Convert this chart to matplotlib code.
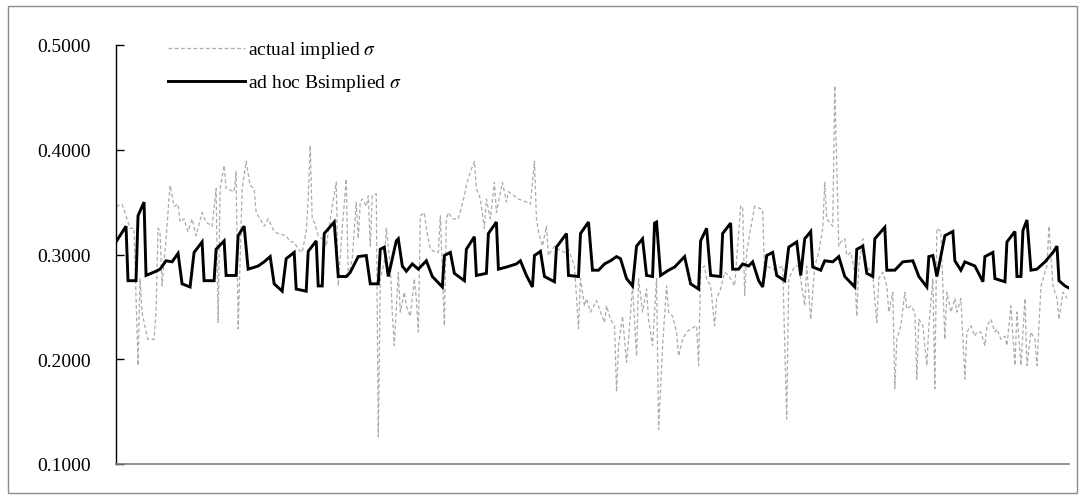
import matplotlib
matplotlib.use("Agg")
import matplotlib.pyplot as plt
from matplotlib.patches import Rectangle
from matplotlib.ticker import FormatStrFormatter

# Trading-day index and volatility for the ad hoc Black-Scholes implied sigma
model_day = [0, 5, 6, 10, 11, 14, 15, 20, 22, 25, 28, 31, 33, 37, 39, 43, 44, 49, 50, 54,
             55, 60, 61, 64, 66, 71, 74, 77, 79, 83, 85, 89, 90, 95, 96, 100, 101, 103, 104, 109,
             111, 115, 117, 121, 125, 127, 131, 132, 134, 136, 140, 141, 143, 145, 148, 151, 155, 158, 163, 164,
             167, 169, 174, 175, 179, 180, 185, 186, 190, 191, 195, 200, 202, 205, 208, 209, 212, 214, 219, 220,
             225, 226, 231, 232, 236, 238, 241, 244, 247, 250, 252, 255, 258, 260, 263, 265, 268, 269, 270, 272,
             276, 279, 282, 284, 287, 291, 292, 295, 297, 302, 303, 307, 308, 311, 313, 316, 318, 321, 323, 325,
             328, 330, 334, 336, 340, 342, 344, 347, 348, 352, 354, 358, 361, 364, 369, 370, 373, 375, 378, 379,
             384, 385, 389, 393, 398, 401, 405, 406, 408, 410, 414, 418, 419, 422, 424, 429, 433, 434, 438, 439,
             444, 445, 449, 450, 452, 453, 455, 457, 460, 464, 468, 470, 471, 474, 476]
model_sigma = [0.312, 0.327, 0.275, 0.275, 0.337, 0.350, 0.280, 0.284, 0.286, 0.294, 0.293, 0.301, 0.272, 0.269, 0.302, 0.312, 0.275, 0.275, 0.305, 0.313,
               0.280, 0.280, 0.318, 0.327, 0.286, 0.289, 0.293, 0.298, 0.272, 0.265, 0.296, 0.302, 0.267, 0.265, 0.303, 0.313, 0.270, 0.270, 0.320, 0.331,
               0.279, 0.279, 0.283, 0.298, 0.299, 0.272, 0.272, 0.305, 0.307, 0.279, 0.313, 0.315, 0.289, 0.284, 0.291, 0.286, 0.294, 0.279, 0.269, 0.299,
               0.302, 0.282, 0.275, 0.305, 0.317, 0.280, 0.282, 0.320, 0.331, 0.286, 0.288, 0.291, 0.294, 0.280, 0.269, 0.299, 0.303, 0.279, 0.274, 0.307,
               0.320, 0.280, 0.279, 0.320, 0.331, 0.285, 0.285, 0.291, 0.294, 0.298, 0.296, 0.277, 0.270, 0.308, 0.315, 0.280, 0.279, 0.330, 0.331, 0.280,
               0.285, 0.288, 0.294, 0.298, 0.272, 0.267, 0.313, 0.325, 0.280, 0.279, 0.320, 0.330, 0.286, 0.286, 0.291, 0.289, 0.293, 0.275, 0.269, 0.299,
               0.302, 0.280, 0.275, 0.307, 0.312, 0.280, 0.315, 0.322, 0.288, 0.285, 0.294, 0.293, 0.298, 0.279, 0.269, 0.305, 0.308, 0.282, 0.279, 0.315,
               0.326, 0.285, 0.285, 0.293, 0.294, 0.279, 0.269, 0.298, 0.299, 0.279, 0.318, 0.322, 0.294, 0.285, 0.293, 0.289, 0.274, 0.298, 0.302, 0.277,
               0.274, 0.312, 0.322, 0.279, 0.279, 0.323, 0.333, 0.285, 0.286, 0.293, 0.302, 0.308, 0.275, 0.270, 0.268]

# Trading-day index and observed market implied volatility
actual_day = [0, 3, 5, 7, 9, 10, 11, 12, 13, 15, 16, 19, 20, 21, 22, 23, 25, 27, 29, 31,
              32, 34, 36, 38, 40, 43, 45, 48, 50, 51, 52, 54, 55, 59, 60, 61, 63, 65, 67, 69,
              70, 72, 74, 76, 79, 81, 85, 87, 89, 91, 93, 95, 96, 97, 98, 99, 101, 103, 105, 108,
              110, 111, 113, 115, 116, 118, 120, 121, 122, 123, 125, 126, 127, 128, 130, 131, 132, 134, 135, 137,
              138, 139, 141, 142, 144, 145, 147, 149, 150, 151, 152, 154, 155, 157, 160, 161, 162, 164, 165, 166,
              168, 171, 174, 175, 177, 179, 180, 182, 184, 185, 187, 189, 190, 193, 195, 196, 199, 201, 205, 207,
              209, 210, 211, 213, 215, 216, 219, 221, 224, 226, 229, 231, 232, 234, 235, 237, 240, 242, 244, 245,
              247, 249, 250, 251, 253, 255, 256, 258, 260, 261, 263, 265, 266, 268, 270, 271, 273, 275, 276, 278,
              280, 281, 283, 285, 287, 290, 291, 292, 294, 295, 297, 299, 300, 302, 304, 306, 309, 310, 312, 313,
              314, 315, 317, 319, 323, 324, 325, 328, 330, 333, 335, 336, 339, 341, 344, 345, 347, 349, 351, 353,
              354, 355, 358, 359, 361, 362, 364, 365, 367, 369, 370, 371, 373, 375, 376, 378, 380, 381, 383, 385,
              386, 388, 389, 390, 392, 394, 395, 397, 399, 400, 401, 403, 405, 406, 408, 409, 410, 412, 414, 415,
              417, 419, 420, 422, 424, 425, 427, 429, 430, 432, 434, 435, 437, 439, 440, 442, 444, 445, 447, 449,
              450, 452, 454, 455, 457, 459, 460, 462, 464, 465, 466, 468, 470, 471, 473, 475]
actual_sigma = [0.346, 0.348, 0.337, 0.325, 0.325, 0.261, 0.194, 0.277, 0.245, 0.226, 0.219, 0.219, 0.245, 0.325, 0.322, 0.270, 0.315, 0.366, 0.346, 0.348,
                0.331, 0.334, 0.322, 0.334, 0.318, 0.340, 0.331, 0.327, 0.363, 0.235, 0.363, 0.385, 0.363, 0.360, 0.379, 0.229, 0.363, 0.389, 0.366, 0.363,
                0.340, 0.334, 0.327, 0.334, 0.322, 0.320, 0.318, 0.312, 0.312, 0.305, 0.302, 0.322, 0.353, 0.404, 0.334, 0.331, 0.318, 0.315, 0.308, 0.346,
                0.369, 0.270, 0.325, 0.372, 0.277, 0.296, 0.350, 0.315, 0.350, 0.353, 0.346, 0.356, 0.308, 0.356, 0.358, 0.126, 0.277, 0.293, 0.325, 0.289,
                0.245, 0.213, 0.283, 0.245, 0.264, 0.251, 0.241, 0.277, 0.258, 0.226, 0.337, 0.340, 0.325, 0.305, 0.302, 0.302, 0.337, 0.232, 0.334, 0.340,
                0.334, 0.334, 0.356, 0.366, 0.379, 0.389, 0.363, 0.353, 0.325, 0.353, 0.334, 0.369, 0.340, 0.369, 0.350, 0.360, 0.356, 0.353, 0.350, 0.348,
                0.389, 0.334, 0.322, 0.308, 0.327, 0.299, 0.308, 0.305, 0.302, 0.305, 0.289, 0.229, 0.277, 0.251, 0.258, 0.245, 0.256, 0.245, 0.235, 0.251,
                0.238, 0.232, 0.169, 0.213, 0.241, 0.197, 0.219, 0.270, 0.203, 0.277, 0.245, 0.267, 0.238, 0.213, 0.277, 0.133, 0.213, 0.270, 0.245, 0.241,
                0.226, 0.203, 0.219, 0.226, 0.229, 0.232, 0.194, 0.286, 0.289, 0.277, 0.270, 0.232, 0.258, 0.267, 0.283, 0.280, 0.270, 0.296, 0.346, 0.346,
                0.261, 0.302, 0.325, 0.346, 0.343, 0.277, 0.289, 0.286, 0.286, 0.289, 0.143, 0.277, 0.289, 0.289, 0.251, 0.289, 0.238, 0.289, 0.302, 0.325,
                0.369, 0.334, 0.327, 0.461, 0.308, 0.312, 0.315, 0.299, 0.302, 0.283, 0.241, 0.289, 0.315, 0.289, 0.286, 0.280, 0.235, 0.277, 0.283, 0.270,
                0.245, 0.264, 0.172, 0.219, 0.232, 0.264, 0.248, 0.251, 0.245, 0.181, 0.238, 0.232, 0.194, 0.232, 0.277, 0.172, 0.325, 0.322, 0.219, 0.264,
                0.245, 0.258, 0.245, 0.258, 0.181, 0.226, 0.232, 0.222, 0.226, 0.226, 0.213, 0.232, 0.238, 0.226, 0.229, 0.219, 0.222, 0.213, 0.251, 0.194,
                0.245, 0.194, 0.258, 0.194, 0.226, 0.219, 0.194, 0.270, 0.283, 0.289, 0.327, 0.270, 0.258, 0.238, 0.264, 0.258]

y_ticks = [0.1, 0.2, 0.3, 0.4, 0.5]
label_actual = r"actual implied $\sigma$"
label_model = r"ad hoc Bsimplied $\sigma$"

plt.rcParams["font.family"] = ["Liberation Serif", "DejaVu Serif"]
plt.rcParams["mathtext.fontset"] = "stix"

fig = plt.figure(figsize=(10.87, 5.02), dpi=100)

# thin gray frame around the whole chart
fig.patches.append(Rectangle((8 / 1087, 1 - 494 / 502), 1069 / 1087, 487 / 502,
                             transform=fig.transFigure, fill=False,
                             edgecolor="#8c8c8c", linewidth=1.0))

ax = fig.add_axes([116 / 1087, 1 - 465 / 502, 953 / 1087, 419 / 502])

ax.plot(actual_day, actual_sigma, color="#ababab", linewidth=0.9,
        linestyle=(0, (3, 2)), label=label_actual)
ax.plot(model_day, model_sigma, color="black", linewidth=2.1,
        solid_joinstyle="miter", label=label_model)

ax.set_xlim(0, 476)
ax.set_ylim(0.1, 0.5)
ax.set_yticks(y_ticks)
ax.yaxis.set_major_formatter(FormatStrFormatter("%.4f"))
ax.set_xticks([])

for side in ("top", "right"):
    ax.spines[side].set_visible(False)
ax.spines["left"].set_color("black")
ax.spines["left"].set_linewidth(1.0)
ax.spines["bottom"].set_color("#7f7f7f")
ax.spines["bottom"].set_linewidth(1.2)
ax.tick_params(axis="y", direction="in", length=5.5, width=1.0, pad=18,
               labelsize=14, colors="black")

leg = ax.legend(loc="upper left", bbox_to_anchor=(0.046, 1.032), frameon=False,
                fontsize=14, handlelength=4.0, handletextpad=0.15,
                labelspacing=0.62, borderaxespad=0)

fig.savefig("out.png", dpi=100)
